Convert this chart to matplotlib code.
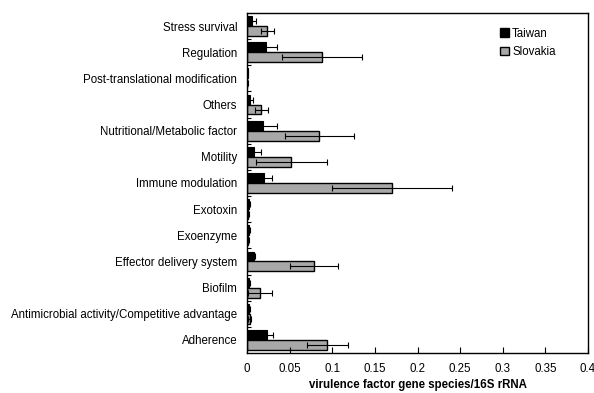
import numpy as np
import matplotlib
matplotlib.use('Agg')
from matplotlib import pyplot as plt
from matplotlib.patches import Patch

plt.rcParams['font.family'] = ['Liberation Sans', 'DejaVu Sans']

categories = ['Adherence', 'Antimicrobial activity/Competitive advantage', 'Biofilm',
              'Effector delivery system', 'Exoenzyme', 'Exotoxin', 'Immune modulation',
              'Motility', 'Nutritional/Metabolic factor', 'Others',
              'Post-translational modification', 'Regulation', 'Stress survival']
taiwan = [0.024, 0.002, 0.002, 0.008, 0.002, 0.002, 0.020, 0.008, 0.019, 0.004, 0.001, 0.022, 0.006]
taiwan_err = [0.007, 0.002, 0.001, 0.001, 0.001, 0.001, 0.009, 0.009, 0.016, 0.003, 0.0005, 0.013, 0.004]
slovakia = [0.094, 0.003, 0.015, 0.079, 0.001, 0.001, 0.170, 0.052, 0.085, 0.017, 0.0005, 0.088, 0.024]
slovakia_err = [0.024, 0.002, 0.014, 0.028, 0.001, 0.001, 0.070, 0.042, 0.040, 0.008, 0.0005, 0.047, 0.008]
x_ticks = [0, 0.05, 0.1, 0.15, 0.2, 0.25, 0.3, 0.35, 0.4]
x_ticklabels = ['0', '0.05', '0.1', '0.15', '0.2', '0.25', '0.3', '0.35', '0.4']

fs = 8.3
fig = plt.figure(figsize=(5.94, 3.93), dpi=100)
ax = fig.add_axes([247 / 594, 1 - 353 / 393, 341 / 594, 340 / 393])

y = np.arange(len(categories))
h = 0.38
err_kw = dict(ecolor='black', elinewidth=0.8, capsize=2, capthick=0.8)
ax.barh(y + h / 2, taiwan, height=h, color='black', edgecolor='black', linewidth=0.8,
        xerr=taiwan_err, error_kw=err_kw)
ax.barh(y - h / 2, slovakia, height=h, color='#a8a8a8', edgecolor='black', linewidth=1.0,
        xerr=slovakia_err, error_kw=err_kw)

ax.set_xlim(0, 0.4)
ax.set_ylim(-0.5, len(categories) - 0.5)
ax.set_xticks(x_ticks)
ax.set_xticklabels(x_ticklabels, fontsize=fs)
ax.tick_params(axis='x', direction='in', length=4, width=0.8, pad=7.5)
ax.set_yticks(y)
ax.set_yticklabels(categories, fontsize=fs)
ax.tick_params(axis='y', which='major', length=0, pad=7)
ax.set_yticks(np.arange(len(categories) - 1) + 0.5, minor=True)
ax.tick_params(axis='y', which='minor', direction='in', length=3, width=0.8)
for s in ax.spines.values():
    s.set_linewidth(1.0)

ax.set_xlabel('virulence factor gene species/16S rRNA', fontsize=fs, fontweight='bold', labelpad=2.5)

handles = [Patch(facecolor='black', edgecolor='black', label='Taiwan'),
           Patch(facecolor='#a8a8a8', edgecolor='black', label='Slovakia')]
ax.legend(handles=handles, loc='upper left', bbox_to_anchor=(0.742, 0.957), frameon=False,
          borderaxespad=0, borderpad=0,
          fontsize=fs, handlelength=0.8, handleheight=0.8, handletextpad=0.25, labelspacing=0.55)

fig.savefig('out.png', dpi=100)
